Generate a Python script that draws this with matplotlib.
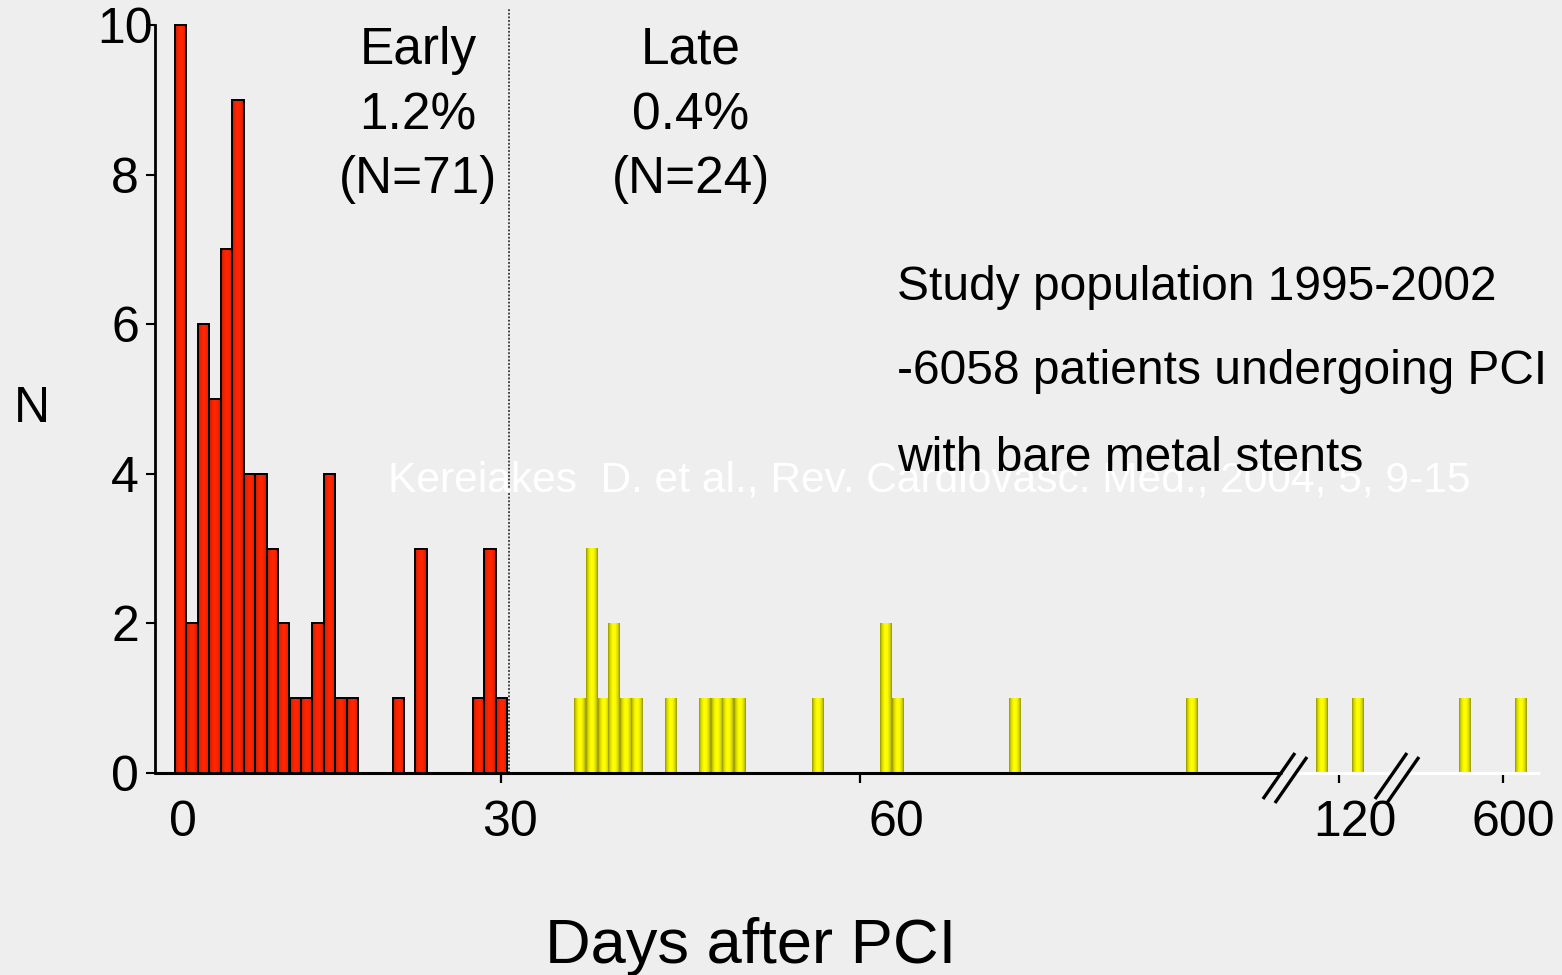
import numpy as np
import matplotlib
matplotlib.use("Agg")
import matplotlib.pyplot as plt
from matplotlib.colors import LinearSegmentedColormap
from matplotlib.lines import Line2D
from matplotlib.transforms import IdentityTransform, ScaledTranslation

plt.rcParams['font.family'] = ['Liberation Sans', 'DejaVu Sans']

# ---------------- data (x in bar-slot units along the broken day axis) ----------------
early_pos = [0, 1, 2, 3, 4, 5, 6, 7, 8, 9, 10, 11, 12, 13, 14, 15, 19, 21, 26, 27, 28]
early_n = [10, 2, 6, 5, 7, 9, 4, 4, 3, 2, 1, 1, 2, 4, 1, 1, 1, 3, 1, 3, 1]

late_pos = [34.85, 35.9, 36.93, 37.85, 38.86, 39.86, 42.8, 45.76, 46.8, 47.78, 48.8,
            55.63, 61.57, 62.62, 72.84, 88.3, 99.65, 102.8, 112.15, 117.0]
late_n = [1, 3, 1, 2, 1, 1, 1, 1, 1, 1, 1, 1, 2, 1, 1, 1, 1, 1, 1, 1]

xtick_labels = ['0', '30', '60', '120', '600']
xtick_label_pos = [0.7, 29.26, 62.97, 103.06, 116.86]
xtick_mark_pos = [28.47, 59.83, 101.66, 115.98]
yticks = [0, 2, 4, 6, 8, 10]
break_pos = [96.94, 106.72]
divider_pos = 29.17

early_text = ['Early', '1.2%', '(N=71)']
late_text = ['Late', '0.4%', '(N=24)']
study_text = ['Study population 1995-2002', '-6058 patients undergoing PCI',
              'with bare metal stents']
source_text = 'Kereiakes  D. et al., Rev. Cardiovasc. Med., 2004, 5, 9-15'

# ---------------- figure ----------------
W, H = 1562, 975
BG = '#eeeeee'
fig = plt.figure(figsize=(W / 100, H / 100), dpi=100, facecolor=BG)
ax = fig.add_axes([155 / W, (H - 773) / H, (1540 - 155) / W, (773 - 8) / H])
ax.set_facecolor(BG)
XLIM = (-20 / 11.45, (1540 - 175) / 11.45)
YLIM = (0, 765 / 74.8)


def fx(x):
    return x / W


def fy(y):
    return 1 - y / H


# gradient colormaps
t = np.linspace(0, 1, 64)
prof = np.sin(np.pi * t) ** 0.7
red_cmap = LinearSegmentedColormap.from_list('r', [(0.72, 0.09, 0.0), (1.0, 0.15, 0.0)])
yel_cmap = LinearSegmentedColormap.from_list('y', [(0.55, 0.55, 0.0), (1.0, 1.0, 0.0)])
grad = prof[np.newaxis, :]

# early bars
ebars = ax.bar(early_pos, early_n, width=1.0, align='edge', facecolor='none',
               edgecolor='black', linewidth=1.4, zorder=3)
for p in ebars.patches:
    x0, w, h = p.get_x(), p.get_width(), p.get_height()
    ax.imshow(grad, extent=(x0, x0 + w, 0, h), cmap=red_cmap, vmin=0, vmax=1,
              aspect='auto', interpolation='bilinear', zorder=2)

# late bars
lbars = ax.bar(late_pos, late_n, width=1.0, align='edge', facecolor='none',
               edgecolor='none', linewidth=0, zorder=3)
for p in lbars.patches:
    x0, w, h = p.get_x(), p.get_width(), p.get_height()
    ax.imshow(grad, extent=(x0, x0 + w, 0, h), cmap=yel_cmap, vmin=0, vmax=1,
              aspect='auto', interpolation='bilinear', zorder=2)

ax.set_xlim(*XLIM)
ax.set_ylim(*YLIM)

# spines
for s in ['top', 'right', 'bottom']:
    ax.spines[s].set_visible(False)
ax.spines['left'].set_linewidth(2)
ax.spines['left'].set_bounds(0, 10)

# y ticks
ax.set_yticks(yticks)
ax.set_yticklabels([str(v) for v in yticks])
ax.tick_params(axis='y', direction='out', length=6.5, width=1.5, pad=5, labelsize=36)
# the top label sits slightly to the right in the reference
top_lbl = ax.get_yticklabels()[-1]
top_lbl.set_transform(top_lbl.get_transform() + ScaledTranslation(0.14, 0, fig.dpi_scale_trans))

# x ticks: labels at major (invisible) ticks, marks at minor ticks
ax.set_xticks(xtick_label_pos)
ax.set_xticklabels(xtick_labels)
ax.set_xticks(xtick_mark_pos, minor=True)
ax.tick_params(axis='x', which='major', length=0, pad=19.5, labelsize=36)
ax.tick_params(axis='x', which='minor', length=7, width=1.6, direction='out')

# axis line (black up to first break, white afterwards)
b1, b2 = break_pos
ax.plot([XLIM[0], b1 - 0.3], [0, 0], color='black', lw=2.2, clip_on=False,
        solid_capstyle='butt', zorder=4)
ax.plot([b1 + 1.0, b2 - 0.35], [0, 0], color='white', lw=2.2, clip_on=False,
        solid_capstyle='butt', zorder=4)
ax.plot([b2 + 0.95, XLIM[1]], [0, 0], color='white', lw=2.2, clip_on=False,
        solid_capstyle='butt', zorder=4)

# break marks (drawn in display pixels around each break position)
for bx in break_pos:
    cx, cy = ax.transData.transform((bx, 0))
    cy -= 5
    for dx, dy in [(-6, 2), (6, -2)]:
        x1, y1 = cx + dx - 16, cy + dy - 23
        x2, y2 = cx + dx + 16, cy + dy + 23
        fig.add_artist(Line2D([x1, x2], [y1, y2], color='black', lw=2.4,
                              transform=IdentityTransform(), solid_capstyle='butt'))

# dotted divider between early / late
ax.plot([divider_pos, divider_pos], [0, YLIM[1]], color='#333333', lw=1.3,
        linestyle=(0, (1, 1)), zorder=1)

# axis labels
ax.set_ylabel('N', rotation=0, fontsize=36, ha='center', va='baseline')
ax.yaxis.set_label_coords((32 - 155) / 1385, (773 - 422) / 765)
ax.set_xlabel('Days after PCI', fontsize=45.5, ha='center', va='baseline')
ax.xaxis.set_label_coords((751 - 155) / 1385, (773 - 963) / 765)

# early / late annotations
for i, base in enumerate([64, 129, 193]):
    fig.text(fx(418), fy(base), early_text[i], fontsize=37, ha='center', va='baseline')
    fig.text(fx(691), fy(base), late_text[i], fontsize=37, ha='center', va='baseline')

# source (white) and study description (they overlap in the reference as well)
fig.text(fx(929.5), fy(491), source_text, fontsize=30.6, color='white', ha='center',
         va='baseline', zorder=1)
for s, base in zip(study_text, [300, 384, 471]):
    fig.text(fx(897), fy(base), s, fontsize=34.5, ha='left', va='baseline', zorder=5)

fig.savefig('out.png', dpi=100, facecolor=BG)
